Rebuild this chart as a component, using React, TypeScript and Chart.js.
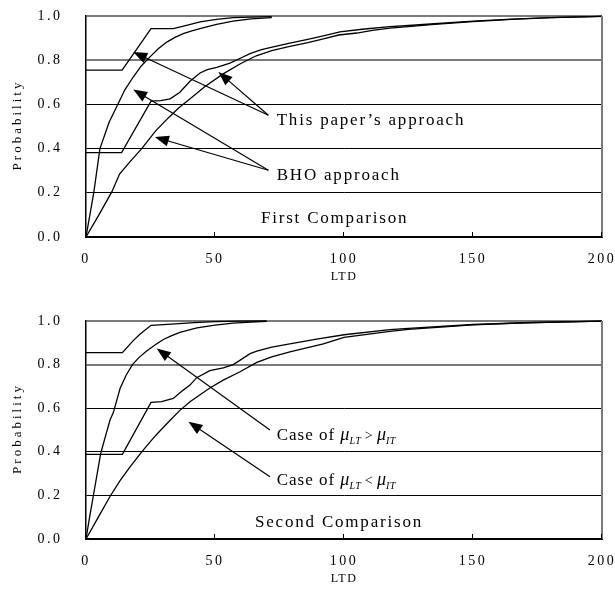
import React, { useEffect, useRef } from "react";
import { Chart, registerables } from "chart.js";
Chart.register(...registerables);

const SERIF = '"Liberation Serif", "Times New Roman", serif';

// ---- axes ----
const xTickValues = [0, 50, 100, 150, 200];
const yTickValues = [0, 0.2, 0.4, 0.6, 0.8, 1.0];
const xAxisTitle = "LTD";
const yAxisTitle = "Probability";

// ---- First comparison ----
const first_paperUpper_x = [0, 14, 25.2, 33.8, 39, 44.2, 50.6, 57, 64, 72];
const first_paperUpper_y = [0.755, 0.755, 0.943, 0.943, 0.958, 0.973, 0.985, 0.993, 0.995, 0.997];
const first_bhoUpper_x = [0, 1.5, 3, 5.4, 9, 12.5, 15, 18.3, 21.5, 24.8, 28, 31.3, 34.5, 37.7, 41, 44.2, 50.6, 57, 64, 72];
const first_bhoUpper_y = [0, 0.1, 0.2, 0.4, 0.52, 0.604, 0.665, 0.724, 0.775, 0.815, 0.852, 0.882, 0.903, 0.92, 0.933, 0.943, 0.962, 0.977, 0.987, 0.993];
const first_paperLower_x = [0, 13.8, 25.2, 29, 32.6, 36.4, 40.3, 44.2, 47, 50.7, 55.8, 60, 63.6, 68, 72.6, 79, 85.5, 92, 98.4, 107, 117.8, 125, 135, 150, 165, 180, 200];
const first_paperLower_y = [0.382, 0.382, 0.615, 0.617, 0.625, 0.655, 0.705, 0.742, 0.757, 0.768, 0.787, 0.81, 0.83, 0.848, 0.86, 0.877, 0.893, 0.91, 0.928, 0.94, 0.952, 0.957, 0.965, 0.977, 0.986, 0.993, 0.998];
const first_bhoLower_x = [0, 5, 10, 13, 17, 21.6, 27, 32, 36, 40, 46, 53, 60, 66, 72, 79, 86, 92, 98, 105, 111, 117.8, 125, 135, 150, 165, 180, 200];
const first_bhoLower_y = [0, 0.1, 0.204, 0.285, 0.34, 0.4, 0.48, 0.54, 0.585, 0.622, 0.68, 0.737, 0.785, 0.82, 0.843, 0.863, 0.88, 0.897, 0.914, 0.923, 0.935, 0.945, 0.952, 0.962, 0.975, 0.985, 0.993, 0.998];

// ---- Second comparison ----
const second_stepUpper_x = [0, 14.1, 18.3, 21, 25.2, 30, 36, 42, 50, 60, 70];
const second_stepUpper_y = [0.855, 0.855, 0.91, 0.94, 0.98, 0.983, 0.988, 0.993, 0.997, 0.999, 1.0];
const second_smoothUpper_x = [0, 1.4, 2.8, 5.7, 9.3, 10.6, 13.2, 15.5, 18, 20.5, 23.5, 27, 30, 33, 36.4, 43, 50, 57, 64, 70];
const second_smoothUpper_y = [0, 0.1, 0.195, 0.393, 0.546, 0.58, 0.69, 0.75, 0.8, 0.832, 0.862, 0.892, 0.915, 0.932, 0.948, 0.968, 0.981, 0.99, 0.995, 0.998];
const second_stepLower_x = [0, 14.1, 25.2, 29.3, 33.8, 37.7, 40.3, 42.9, 48, 53.2, 57.1, 63.6, 66.2, 72, 79, 89.4, 100, 117.8, 125, 150, 170, 200];
const second_stepLower_y = [0.388, 0.388, 0.627, 0.63, 0.645, 0.683, 0.706, 0.74, 0.772, 0.785, 0.8, 0.85, 0.862, 0.88, 0.895, 0.917, 0.937, 0.96, 0.966, 0.984, 0.992, 0.999];
const second_smoothLower_x = [0, 5, 9.3, 13.2, 17, 21.6, 27, 32.6, 36.4, 40.3, 48, 53.2, 59.7, 66.2, 72, 79, 92, 100, 117.8, 125, 150, 170, 200];
const second_smoothLower_y = [0, 0.105, 0.195, 0.268, 0.33, 0.4, 0.475, 0.545, 0.59, 0.63, 0.693, 0.729, 0.767, 0.81, 0.835, 0.858, 0.895, 0.925, 0.952, 0.962, 0.982, 0.992, 0.999];

type Part = { t: string; font?: string; dy?: number; ls?: string };
type Note = { x: number; y: number; parts: Part[] };
type Arrow = { fx: number; fy: number; tx: number; ty: number };

const mainFont = `17px ${SERIF}`;
const muFont = `italic 18px ${SERIF}`;
const subFont = `italic 10px ${SERIF}`;

const firstNotes: Note[] = [
  { x: 73.9, y: 0.505, parts: [{ t: "This paper\u2019s approach" }] },
  { x: 73.9, y: 0.26, parts: [{ t: "BHO approach" }] },
  { x: 67.8, y: 0.063, parts: [{ t: "First Comparison" }] },
];
const firstArrows: Arrow[] = [
  { fx: 70.7, fy: 0.551, tx: 18.3, ty: 0.837 },
  { fx: 70.7, fy: 0.551, tx: 51.3, ty: 0.747 },
  { fx: 70.7, fy: 0.302, tx: 18.3, ty: 0.667 },
  { fx: 70.7, fy: 0.302, tx: 26.7, ty: 0.452 },
];

function caseParts(rel: string): Part[] {
  return [
    { t: "Case of ", ls: "1px" },
    { t: "\u03bc", font: muFont, ls: "0px" },
    { t: "LT", font: subFont, dy: 4, ls: "0.5px" },
    { t: rel, font: `14px ${SERIF}`, ls: "0px" },
    { t: " ", ls: "0px" },
    { t: "\u03bc", font: muFont, ls: "0px" },
    { t: "IT", font: subFont, dy: 4, ls: "0.5px" },
  ];
}
const secondNotes: Note[] = [
  { x: 73.9, y: 0.454, parts: caseParts(" >") },
  { x: 73.9, y: 0.248, parts: caseParts(" <") },
  { x: 65.5, y: 0.053, parts: [{ t: "Second Comparison" }] },
];
const secondArrows: Arrow[] = [
  { fx: 71.3, fy: 0.5, tx: 27.4, ty: 0.874 },
  { fx: 71.3, fy: 0.286, tx: 39.7, ty: 0.538 },
];

function toPoints(xs: number[], ys: number[]) {
  return xs.map((x, i) => ({ x, y: ys[i] }));
}

function drawArrow(ctx: CanvasRenderingContext2D, x1: number, y1: number, x2: number, y2: number) {
  const ang = Math.atan2(y2 - y1, x2 - x1);
  const L = 14, W = 5.5;
  const bx = x2 - L * Math.cos(ang), by = y2 - L * Math.sin(ang);
  ctx.beginPath();
  ctx.moveTo(x1, y1);
  ctx.lineTo(bx + 1 * Math.cos(ang), by + 1 * Math.sin(ang));
  ctx.stroke();
  ctx.beginPath();
  ctx.moveTo(x2, y2);
  ctx.lineTo(bx + W * Math.sin(ang), by - W * Math.cos(ang));
  ctx.lineTo(bx - W * Math.sin(ang), by + W * Math.cos(ang));
  ctx.closePath();
  ctx.fill();
}

function makePlugin(notes: Note[], arrows: Arrow[]) {
  return {
    id: "annot",
    beforeDraw(chart: any) {
      (chart.ctx as any).letterSpacing = "2.5px";
    },
    afterDraw(chart: any) {
      const ctx: CanvasRenderingContext2D = chart.ctx;
      const xs = chart.scales.x, ys = chart.scales.y;
      const { left, right, top, bottom } = chart.chartArea;
      ctx.save();
      (ctx as any).letterSpacing = "0px";
      // right border
      ctx.strokeStyle = "#7a7a7a";
      ctx.lineWidth = 2;
      ctx.beginPath();
      ctx.moveTo(xs.getPixelForValue(200), ys.getPixelForValue(1));
      ctx.lineTo(xs.getPixelForValue(200), ys.getPixelForValue(0));
      ctx.stroke();
      // inward x ticks
      ctx.strokeStyle = "#000";
      ctx.lineWidth = 1;
      for (const v of xTickValues) {
        if (v === 0) continue;
        const px = Math.round(xs.getPixelForValue(v)) - 0.5;
        ctx.beginPath();
        ctx.moveTo(px, bottom);
        ctx.lineTo(px, bottom - 5);
        ctx.stroke();
      }
      ctx.fillStyle = "#000";
      // axis titles
      ctx.save();
      ctx.translate(18, (top + bottom) / 2);
      ctx.rotate(-Math.PI / 2);
      ctx.font = `13px ${SERIF}`;
      (ctx as any).letterSpacing = "3px";
      ctx.textAlign = "center";
      ctx.textBaseline = "middle";
      ctx.fillText(yAxisTitle, 1.5, 0);
      ctx.restore();
      ctx.font = `12px ${SERIF}`;
      (ctx as any).letterSpacing = "1.5px";
      ctx.textAlign = "center";
      ctx.textBaseline = "middle";
      ctx.fillText(xAxisTitle, (left + right) / 2, bottom + 39.5);
      // arrows
      ctx.lineWidth = 1.2;
      ctx.strokeStyle = "#000";
      for (const a of arrows) {
        drawArrow(ctx, xs.getPixelForValue(a.fx), ys.getPixelForValue(a.fy), xs.getPixelForValue(a.tx), ys.getPixelForValue(a.ty));
      }
      // notes
      ctx.textAlign = "left";
      ctx.textBaseline = "alphabetic";
      for (const n of notes) {
        let cx = xs.getPixelForValue(n.x);
        const by = ys.getPixelForValue(n.y);
        for (const p of n.parts) {
          ctx.font = p.font || mainFont;
          (ctx as any).letterSpacing = p.ls || "1.8px";
          ctx.fillText(p.t, cx, by + (p.dy || 0));
          cx += ctx.measureText(p.t).width;
        }
      }
      ctx.restore();
    },
  };
}

function zeroPad(s: any) {
  s.paddingTop = 0;
  s.paddingBottom = 0;
  s.paddingLeft = 0;
  s.paddingRight = 0;
}

type Series = { x: number[]; y: number[] };

function ComparisonChart(props: { series: Series[]; notes: Note[]; arrows: Arrow[]; top: number; height: number; padTop: number; axisHeight: number }) {
  const ref = useRef<HTMLCanvasElement>(null);
  useEffect(() => {
    const { series, notes, arrows, padTop, axisHeight } = props;
    const chart = new Chart(ref.current as HTMLCanvasElement, {
      type: "line",
      data: {
        datasets: series.map((s) => ({
          data: toPoints(s.x, s.y),
          borderColor: "#000",
          borderWidth: 1.3,
          pointRadius: 0,
          tension: 0,
          fill: false,
          clip: false as any,
        })),
      },
      options: {
        responsive: false,
        animation: false,
        devicePixelRatio: 1,
        layout: { padding: { top: padTop, right: 13, left: 0, bottom: 0 } },
        plugins: { legend: { display: false }, tooltip: { enabled: false }, title: { display: false } },
        scales: {
          x: {
            type: "linear",
            min: 0,
            max: 200,
            afterBuildTicks: (s: any) => { s.ticks = xTickValues.map((v) => ({ value: v })); },
            afterFit: (s: any) => { s.height = axisHeight; zeroPad(s); },
            ticks: { font: { family: SERIF, size: 14 }, color: "#000", padding: 13.6, maxRotation: 0, autoSkip: false, callback: (v: any) => String(v) },
            grid: { display: true, drawOnChartArea: false, drawTicks: false },
            border: { display: true, color: "#000", width: 2 },
          },
          y: {
            type: "linear",
            min: 0,
            max: 1,
            afterBuildTicks: (s: any) => { s.ticks = yTickValues.map((v) => ({ value: v })); },
            afterFit: (s: any) => { s.width = 86; zeroPad(s); },
            ticks: { font: { family: SERIF, size: 14 }, color: "#000", padding: 23.5, callback: (v: any) => Number(v).toFixed(1) },
            grid: {
              drawTicks: false,
              color: (c: any) => (c.tick && c.tick.value >= 0.79 ? "#7a7a7a" : "#000"),
              lineWidth: (c: any) => (c.tick && c.tick.value >= 0.79 ? 2 : 1),
            },
            border: { display: true, color: "#000", width: 1.5 },
          },
        },
      },
      plugins: [makePlugin(notes, arrows)],
    } as any);
    return () => chart.destroy();
  }, []);
  return (
    <canvas
      ref={ref}
      width={615}
      height={props.height}
      style={{ position: "absolute", left: 0, top: props.top, width: 615, height: props.height }}
    />
  );
}

export default function App() {
  return (
    <div style={{ position: "absolute", left: 0, top: 0, width: 615, height: 592, background: "#fff" }}>
      <ComparisonChart
        top={0}
        height={296}
        padTop={16}
        axisHeight={59}
        notes={firstNotes}
        arrows={firstArrows}
        series={[
          { x: first_paperUpper_x, y: first_paperUpper_y },
          { x: first_bhoUpper_x, y: first_bhoUpper_y },
          { x: first_paperLower_x, y: first_paperLower_y },
          { x: first_bhoLower_x, y: first_bhoLower_y },
        ]}
      />
      <ComparisonChart
        top={296}
        height={296}
        padTop={25}
        axisHeight={53}
        notes={secondNotes}
        arrows={secondArrows}
        series={[
          { x: second_stepUpper_x, y: second_stepUpper_y },
          { x: second_smoothUpper_x, y: second_smoothUpper_y },
          { x: second_stepLower_x, y: second_stepLower_y },
          { x: second_smoothLower_x, y: second_smoothLower_y },
        ]}
      />
    </div>
  );
}
